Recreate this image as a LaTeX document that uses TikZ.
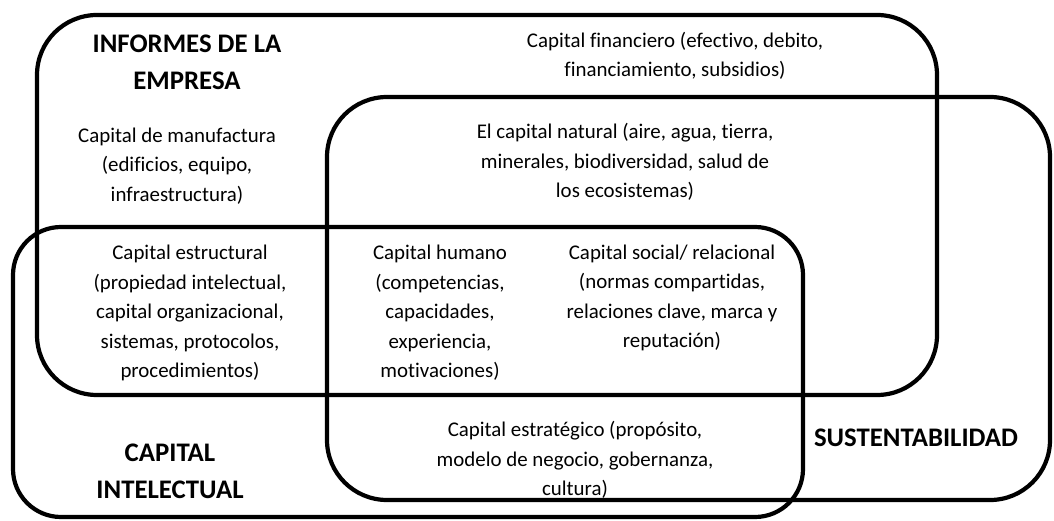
\documentclass[tikz,border=0pt]{standalone}
\usepackage{fontspec}
\setmainfont[Ligatures=NoCommon]{Carlito}
\begin{document}
\begin{tikzpicture}[x=1pt,y=-1pt,
  frame/.style={draw=black,line width=4.2pt},
  lbl/.style={align=center,font=\fontsize{20.9}{29.5}\selectfont,inner sep=0pt},
  ttl/.style={align=center,font=\fontsize{26.8}{37}\selectfont\bfseries,inner sep=0pt}]
\useasboundingbox (0,0) rectangle (1054,521);
% frames
\draw[frame,rounded corners=60pt] (37,15) rectangle (937,395);
\draw[frame,rounded corners=60pt] (327,97) rectangle (1050,500);
\draw[frame,rounded corners=48pt] (13,227) rectangle (803,517);
% titles
\node[ttl] (inf) at (187,62) {INFORMES DE LA\\EMPRESA};
\node[ttl] (ci) at (170,471) {CAPITAL\\INTELECTUAL};
\node[ttl] (sus) at (916,438) {SUSTENTABILIDAD};
% texts
\node[lbl] (fin) at (675,56) {Capital financiero (efectivo, debito,\\financiamiento, subsidios)};
\node[lbl] (man) at (177,166) {Capital de manufactura\\(edificios, equipo,\\infraestructura)};
\node[lbl] (nat) at (625,162) {El capital natural (aire, agua, tierra,\\minerales, biodiversidad, salud de\\los ecosistemas)};
\node[lbl] (est) at (190,313) {Capital estructural\\(propiedad intelectual,\\capital organizacional,\\sistemas, protocolos,\\procedimientos)};
\node[lbl] (hum) at (440,313) {Capital humano\\(competencias,\\capacidades,\\experiencia,\\motivaciones)};
\node[lbl] (soc) at (672,298) {Capital social/ relacional\\(normas compartidas,\\relaciones clave, marca y\\reputación)};
\node[lbl] (estr) at (575,460) {Capital estratégico (propósito,\\modelo de negocio, gobernanza,\\cultura)};
\end{tikzpicture}
\end{document}
